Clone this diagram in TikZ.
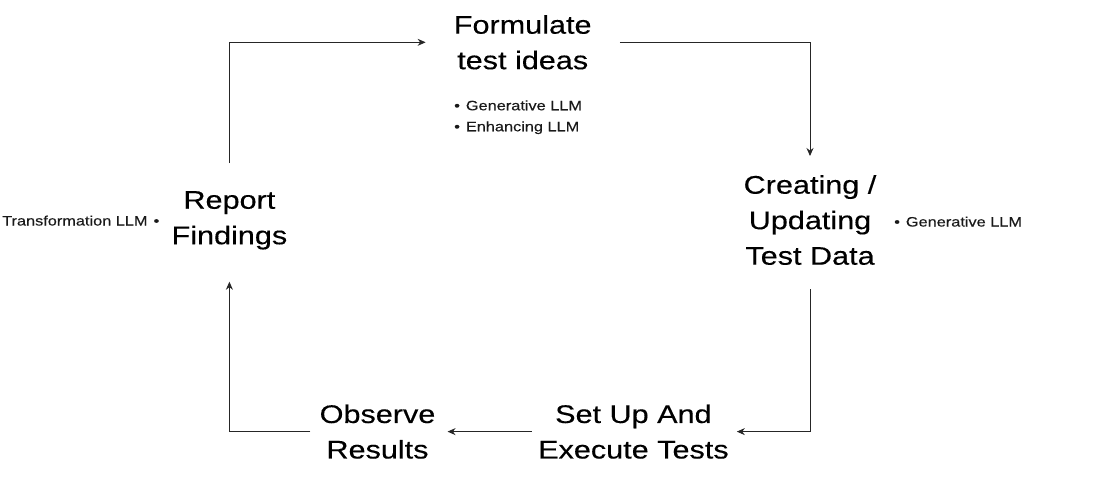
\documentclass[tikz,border=0pt]{standalone}
\usepackage{fontspec}
\setmainfont{Liberation Sans}[FakeStretch=1.2,FakeBold=0.25]
\usetikzlibrary{arrows.meta}
\begin{document}
\begin{tikzpicture}[x=1pt,y=-1pt,
  stepbox/.style={align=center,inner sep=0pt,anchor=north,font=\fontsize{25.5}{35.5}\selectfont,text=black},
  llm/.style={inner sep=0pt,font=\fontsize{13.6}{21}\selectfont,text=black!90},
  flow/.style={draw=black!85,line width=0.9pt,-{Stealth[length=8pt,width=7pt]}}]
\fill[white] (0,0) rectangle (1100,490);
\useasboundingbox (0,0) rectangle (1100,490);
\node[stepbox] (form) at (522.7,15) {Formulate\\test ideas};
\node[stepbox] (create) at (810,175) {Creating /\\Updating\\Test Data};
\node[stepbox] (setup) at (633.4,404.3) {Set Up And\\Execute Tests};
\node[stepbox] (observe) at (377.5,404.3) {Observe\\Results};
\node[stepbox] (report) at (229.4,191) {Report\\Findings};
\node[llm,align=left,anchor=north west] (formllm) at (454,100.2) {•\hspace{6pt}Generative LLM\\•\hspace{6pt}Enhancing LLM};
\node[llm,anchor=base west] (createllm) at (894,226.5) {•\hspace{6pt}Generative LLM};
\node[llm,anchor=base east] (reportllm) at (159.5,225.5) {Transformation LLM\hspace{6pt}•};
\draw[flow] ([yshift=28]report.north) |- ([xshift=-28]form.west);
\draw[flow] ([xshift=28]form.east) -| ([yshift=19]create.north);
\draw[flow] ([yshift=-24]create.south) |- ([xshift=8]setup.east);
\draw[flow] ([xshift=-6]setup.west) -- ([xshift=12]observe.east);
\draw[flow] ([xshift=-9]observe.west) -| ([yshift=-32]report.south);
\end{tikzpicture}
\end{document}
